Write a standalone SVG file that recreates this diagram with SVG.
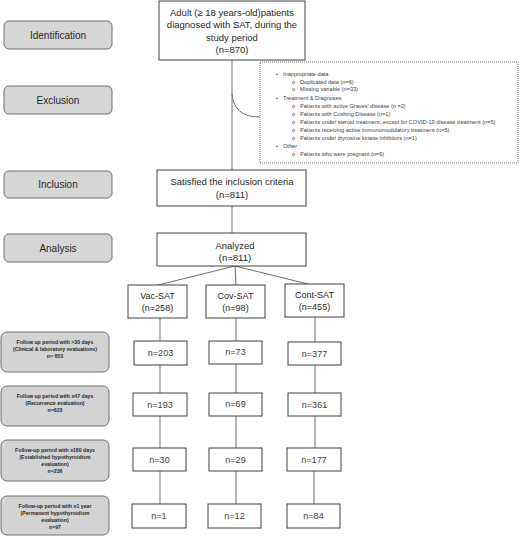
<svg xmlns="http://www.w3.org/2000/svg" width="520" height="537" viewBox="0 0 520 537">
<style>
text{font-family:"Liberation Sans",Arial,sans-serif;fill:#262626}
.stage rect{fill:#d6d6d6;stroke:#6f6f6f;stroke-width:1}
.stage text{font-size:10px;text-anchor:middle}
.fu rect{fill:#d3d3d3;stroke:#6f6f6f;stroke-width:1}
.fu text{font-size:5.2px;font-weight:bold;text-anchor:middle}
.box rect{fill:#fff;stroke:#404040;stroke-width:1}
.box text{font-size:9.5px;text-anchor:middle}
.grp text{font-size:9px;text-anchor:middle}
.n text{font-size:9px;text-anchor:middle;fill:#404040}
.ex rect{fill:#fff;stroke:#555;stroke-width:0.8;stroke-dasharray:1 1}
.ex text{font-size:5.6px;fill:#404040}
.conn path,.conn line{fill:none;stroke:#6f6f6f;stroke-width:1}
</style>

<g class="conn" id="connectors">
<line x1="232" y1="60" x2="232" y2="170"/>
<path d="M232,94 Q234,117 260,117"/>
<line x1="232" y1="206" x2="232" y2="233"/>
<line x1="235" y1="266" x2="158" y2="285"/>
<line x1="235" y1="266" x2="236" y2="285"/>
<line x1="235" y1="266" x2="312" y2="285"/>
<line x1="160" y1="318" x2="160" y2="341"/>
<line x1="236" y1="318" x2="236" y2="341"/>
<line x1="315" y1="317" x2="315" y2="342"/>
<line x1="160" y1="365" x2="160" y2="393"/>
<line x1="236" y1="364" x2="236" y2="393"/>
<line x1="315" y1="365" x2="315" y2="393"/>
<line x1="160" y1="416" x2="160" y2="448"/>
<line x1="236" y1="416" x2="236" y2="448"/>
<line x1="315" y1="416" x2="315" y2="448"/>
<line x1="160" y1="471" x2="160" y2="504"/>
<line x1="236" y1="471" x2="236" y2="504"/>
<line x1="314" y1="471" x2="314" y2="504"/>
</g>

<g class="stage" id="stage-identification"><rect x="4" y="21" width="108" height="28" rx="5"/><text x="58" y="38.5">Identification</text></g>
<g class="stage" id="stage-exclusion"><rect x="4" y="86" width="108" height="28" rx="5"/><text x="58" y="103.5">Exclusion</text></g>
<g class="stage" id="stage-inclusion"><rect x="4" y="171" width="108" height="27" rx="5"/><text x="58" y="188">Inclusion</text></g>
<g class="stage" id="stage-analysis"><rect x="4" y="234" width="108" height="28" rx="5"/><text x="58" y="251.5">Analysis</text></g>

<g class="fu" id="fu-30"><rect x="1" y="332" width="108" height="40" rx="6"/>
<text x="55" y="343.8">Follow up period with &gt;30 days</text>
<text x="55" y="351">(Clinical &amp; laboratory evaluations)</text>
<text x="55" y="358.2">n= 653</text></g>
<g class="fu" id="fu-47"><rect x="1" y="386" width="108" height="40" rx="6"/>
<text x="55" y="397.8">Follow up period with ≥47 days</text>
<text x="55" y="405">(Recurrence evaluation)</text>
<text x="55" y="412.2">n=623</text></g>
<g class="fu" id="fu-180"><rect x="1" y="440" width="108" height="41" rx="6"/>
<text x="55" y="451.8">Follow-up period with ≥180 days</text>
<text x="55" y="459">(Established hypothyroidism</text>
<text x="55" y="466.2">evaluation)</text>
<text x="55" y="473.4">n=236</text></g>
<g class="fu" id="fu-1y"><rect x="1" y="496" width="108" height="39" rx="6"/>
<text x="55" y="507.8">Follow-up period with ≥1 year</text>
<text x="55" y="515">(Permanent hypothyroidism</text>
<text x="55" y="522.2">evaluation)</text>
<text x="55" y="529.4">n=97</text></g>

<g class="box" id="identified"><rect x="159" y="1" width="146" height="59"/>
<text x="232" y="15.5">Adult (≥ 18 years-old)patients</text>
<text x="232" y="28">diagnosed with SAT, during the</text>
<text x="232" y="40.5">study period</text>
<text x="232" y="53">(n=870)</text></g>

<g class="ex" id="excluded"><rect x="260" y="62" width="258" height="101"/>
<text x="276" y="76">•</text><text x="283" y="76">Inappropriate data</text>
<text x="292" y="83.7">o</text><text x="300" y="83.7">Duplicated data (n=6)</text>
<text x="292" y="91">o</text><text x="300" y="91">Missing variable (n=33)</text>
<text x="276" y="99.7">•</text><text x="283" y="99.7">Treatment &amp; Diagnoses</text>
<text x="292" y="107.7">o</text><text x="300" y="107.7">Patients with active Graves’ disease (n =2)</text>
<text x="292" y="115.7">o</text><text x="300" y="115.7">Patients with Cushing Disease (n=1)</text>
<text x="292" y="123.7">o</text><text x="300" y="123.7">Patients under steroid treatment, except for COVID-19 disease treatment (n=5)</text>
<text x="292" y="132">o</text><text x="300" y="132">Patients receiving active immunomodulatory treatment (n=5)</text>
<text x="292" y="140">o</text><text x="300" y="140">Patients under thyrosine kinase inhibitors (n=1)</text>
<text x="276" y="148">•</text><text x="283" y="148">Other</text>
<text x="292" y="156">o</text><text x="300" y="156">Patients who were pregnant (n=6)</text></g>

<g class="box" id="included"><rect x="157" y="170" width="149" height="36"/>
<text x="232" y="185">Satisfied the inclusion criteria</text>
<text x="232" y="197.5">(n=811)</text></g>

<g class="box" id="analyzed"><rect x="157" y="233" width="149" height="33"/>
<text x="235" y="249">Analyzed</text>
<text x="235" y="260.5">(n=811)</text></g>

<g class="box grp" id="vac-sat"><rect x="128" y="285" width="59" height="33"/><text x="157.5" y="299">Vac-SAT</text><text x="157.5" y="311">(n=258)</text></g>
<g class="box grp" id="cov-sat"><rect x="206" y="285" width="59" height="33"/><text x="235.5" y="299">Cov-SAT</text><text x="235.5" y="311">(n=98)</text></g>
<g class="box grp" id="cont-sat"><rect x="285" y="284" width="59" height="33"/><text x="314.5" y="298">Cont-SAT</text><text x="314.5" y="310">(n=455)</text></g>

<g class="box n" id="vac-30"><rect x="134" y="341" width="53" height="24"/><text x="160.5" y="355.5">n=203</text></g>
<g class="box n" id="cov-30"><rect x="209" y="341" width="53" height="23"/><text x="235.5" y="355">n=73</text></g>
<g class="box n" id="cont-30"><rect x="288" y="342" width="53" height="23"/><text x="314.5" y="357">n=377</text></g>

<g class="box n" id="vac-47"><rect x="133" y="393" width="54" height="23"/><text x="160" y="407.5">n=193</text></g>
<g class="box n" id="cov-47"><rect x="209" y="393" width="53" height="23"/><text x="235.5" y="407">n=69</text></g>
<g class="box n" id="cont-47"><rect x="288" y="393" width="53" height="23"/><text x="314.5" y="408">n=361</text></g>

<g class="box n" id="vac-180"><rect x="133" y="448" width="53" height="23"/><text x="159.5" y="462.5">n=30</text></g>
<g class="box n" id="cov-180"><rect x="209" y="448" width="53" height="23"/><text x="235.5" y="462.5">n=29</text></g>
<g class="box n" id="cont-180"><rect x="287" y="448" width="54" height="23"/><text x="314" y="462.5">n=177</text></g>

<g class="box n" id="vac-1y"><rect x="132" y="504" width="54" height="24"/><text x="159" y="519">n=1</text></g>
<g class="box n" id="cov-1y"><rect x="208" y="504" width="53" height="24"/><text x="234.5" y="519">n=12</text></g>
<g class="box n" id="cont-1y"><rect x="287" y="504" width="53" height="24"/><text x="313.5" y="519">n=84</text></g>
</svg>
